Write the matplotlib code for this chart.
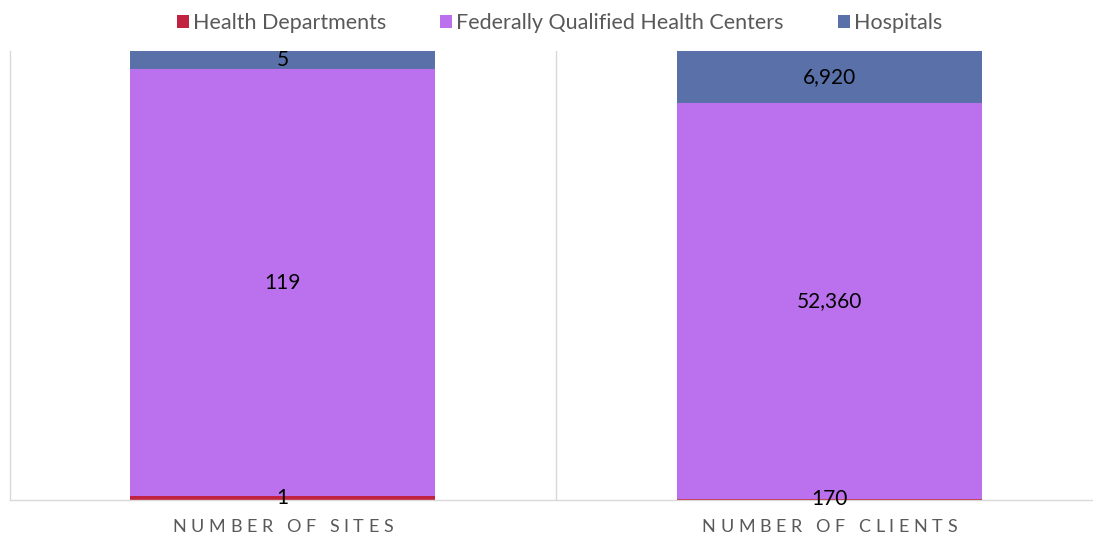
import numpy as np
import matplotlib.pyplot as plt
from matplotlib.font_manager import FontProperties

plt.rcParams['font.family'] = ['Lato', 'DejaVu Sans']

categories = ['NUMBER OF SITES', 'NUMBER OF CLIENTS']
series_names = ['Health Departments', 'Federally Qualified Health Centers', 'Hospitals']
health_departments = [1, 170]
fqhc = [119, 52360]
hospitals = [5, 6920]
colors = ['#C0223F', '#BB71EE', '#5A70A8']

values = np.array([health_departments, fqhc, hospitals], dtype=float)
totals = values.sum(axis=0)
shares = values / totals * 100

W, H = 1093, 540
fig = plt.figure(figsize=(W / 100, H / 100), dpi=100)
ax = fig.add_axes([9.5 / W, 40 / H, 1.0, 449 / H])

x = np.arange(len(categories))
bottom = np.zeros(len(categories))
for i, name in enumerate(series_names):
    ax.bar(x, shares[i], 0.558, bottom=bottom, color=colors[i], label=name, zorder=2)
    for j in range(len(categories)):
        ax.text(x[j], bottom[j] + shares[i][j] / 2, f'{int(values[i][j]):,}',
                ha='center', va='center', fontsize=15, color='black', zorder=3)
    bottom += shares[i]

ax.set_xlim(-0.5, 1.5)
ax.set_ylim(0, 100)
ax.set_yticks([])
ax.set_xticks([])
ax.axvline(0.5, color='#D9D9D9', lw=1, zorder=1)
for s in ['top', 'right']:
    ax.spines[s].set_visible(False)
for s in ['left', 'bottom']:
    ax.spines[s].set_color('#D9D9D9')
    ax.spines[s].set_linewidth(1)

# category labels with letter spacing (tracking)
renderer = fig.canvas.get_renderer()
prop = FontProperties(family=['Lato', 'DejaVu Sans'], size=13)
track = 4.6  # px between letters


def text_w(s):
    return renderer.get_text_width_height_descent(s, prop, ismath=False)[0]


for j, label in enumerate(categories):
    xc = ax.transData.transform((x[j], 0))[0]
    total = text_w(label) + (len(label) - 1) * track
    x0 = xc - total / 2
    wx = text_w('X')
    for k, ch in enumerate(label):
        if ch == ' ':
            continue
        pos = x0 + (text_w(label[:k] + 'X') - wx if k else 0) + k * track
        fig.text(pos / W, 1 - 527 / H, ch, fontproperties=prop, color='#595959',
                 ha='left', va='center')

leg = fig.legend(loc='upper center', bbox_to_anchor=(0.512, 1.012), ncol=3, frameon=False,
                 fontsize=15.5, handlelength=0.55, handleheight=0.55, handletextpad=0.2,
                 columnspacing=2.5)
for t in leg.get_texts():
    t.set_color('#595959')

fig.savefig('out.png', dpi=100)
